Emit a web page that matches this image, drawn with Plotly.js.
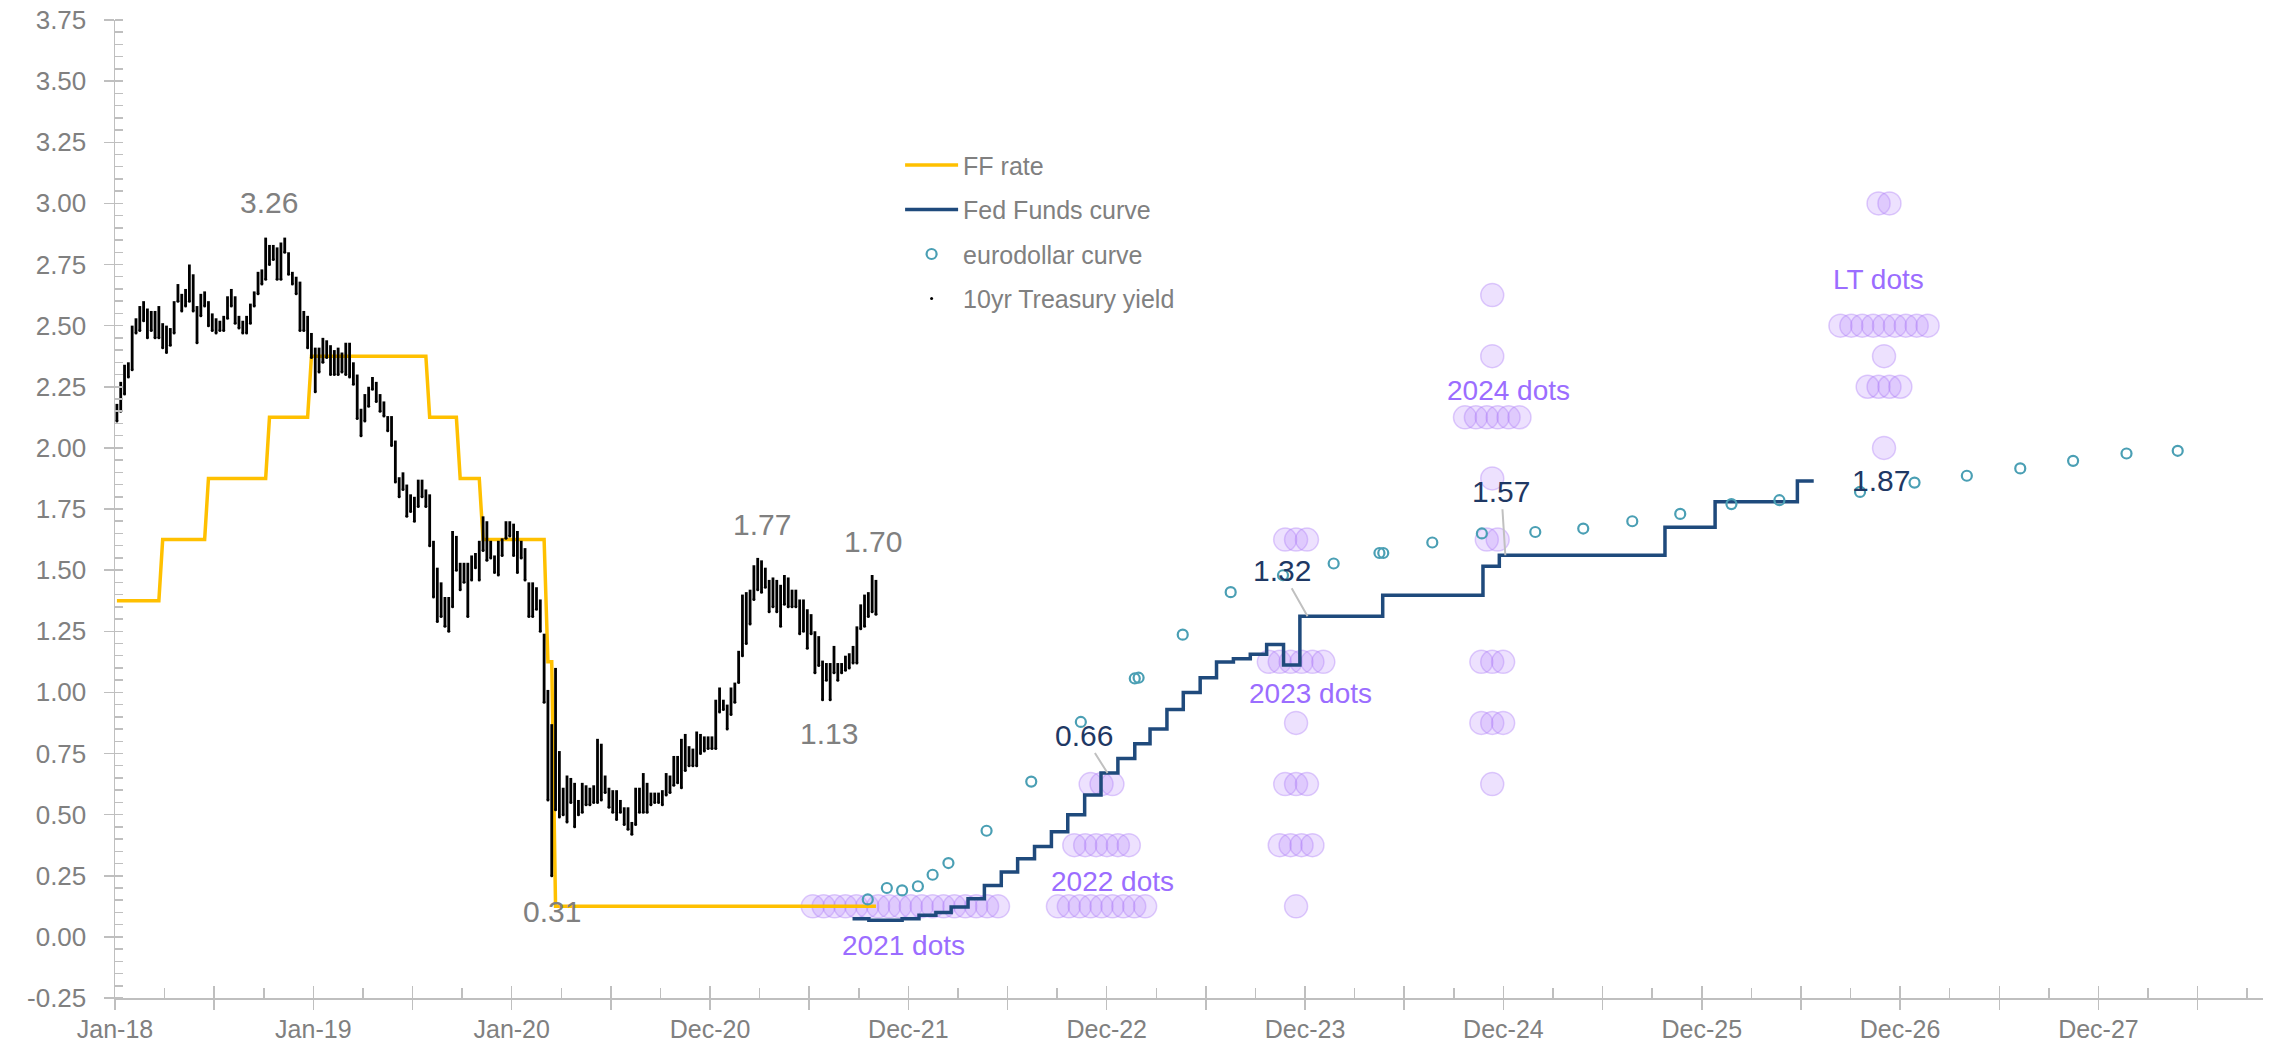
<!DOCTYPE html>
<html><head><meta charset="utf-8">
<script src="https://cdn.plot.ly/plotly-3.0.1.min.js"></script>
<style>html,body{margin:0;padding:0;background:#fff}#chart{width:2277px;height:1045px}</style>
</head><body><div id="chart"></div>
<script>
// ================= DATA =================
// 10yr Treasury yield: weekly high / low (first observation Thursday 2018-01-04)
const tsyStart = '2018-01-04';
const tsyHigh = [
2.18,2.27,2.34,2.35,2.50,2.53,2.58,2.60,2.57,2.56,
2.56,2.58,2.51,2.50,2.49,2.60,2.67,2.63,2.65,2.75,
2.71,2.58,2.63,2.64,2.60,2.55,2.53,2.52,2.54,2.62,
2.65,2.62,2.54,2.52,2.54,2.59,2.64,2.72,2.73,2.86,
2.83,2.83,2.82,2.84,2.86,2.80,2.72,2.70,2.68,2.56,
2.54,2.47,2.41,2.41,2.45,2.44,2.42,2.40,2.41,2.39,
2.43,2.43,2.35,2.30,2.16,2.22,2.25,2.29,2.27,2.22,
2.19,2.13,2.13,2.03,1.88,1.90,1.85,1.81,1.80,1.87,
1.87,1.83,1.81,1.62,1.51,1.45,1.39,1.39,1.66,1.64,
1.53,1.53,1.53,1.56,1.57,1.62,1.72,1.70,1.62,1.56,
1.62,1.63,1.70,
1.70,1.69,1.66,1.62,1.59,1.45,1.45,1.43,1.38,1.24,
1.01,0.87,1.10,0.76,0.61,0.66,0.65,0.63,0.56,0.63,
0.62,0.61,0.62,0.81,0.79,0.66,0.61,0.60,0.60,0.56,
0.53,0.53,0.47,0.61,0.61,0.67,0.63,0.59,0.59,0.59,
0.60,0.67,0.66,0.74,0.74,0.81,0.83,0.78,0.77,0.84,
0.83,0.82,0.82,0.82,0.97,1.02,0.97,0.95,1.02,1.04,
1.17,1.40,1.41,1.42,1.52,1.55,1.54,1.51,1.46,1.47,
1.46,1.44,1.48,1.47,1.42,1.42,1.38,1.38,1.34,1.32,
1.25,1.23,1.13,1.12,1.12,1.19,1.12,1.12,1.15,1.16,
1.19,1.27,1.36,1.40,1.41,1.48,1.46];
const tsyLow = [
2.11,2.15,2.22,2.29,2.32,2.47,2.48,2.52,2.45,2.48,
2.45,2.45,2.41,2.39,2.42,2.47,2.60,2.56,2.58,2.60,
2.56,2.43,2.54,2.58,2.50,2.48,2.47,2.48,2.48,2.53,
2.58,2.51,2.49,2.47,2.47,2.51,2.58,2.63,2.67,2.69,
2.75,2.77,2.69,2.69,2.80,2.71,2.67,2.63,2.48,2.48,
2.41,2.37,2.23,2.31,2.35,2.37,2.30,2.30,2.30,2.31,
2.30,2.29,2.26,2.12,2.05,2.11,2.17,2.24,2.19,2.15,
2.13,2.07,2.01,1.86,1.80,1.83,1.72,1.74,1.70,1.76,
1.80,1.76,1.60,1.39,1.29,1.31,1.27,1.25,1.35,1.50,
1.42,1.45,1.31,1.46,1.51,1.46,1.58,1.54,1.55,1.49,
1.48,1.56,1.63,
1.64,1.56,1.49,1.55,1.46,1.31,1.31,1.34,1.25,0.96,
0.56,0.25,0.52,0.49,0.50,0.47,0.55,0.45,0.50,0.51,
0.54,0.54,0.55,0.55,0.56,0.59,0.53,0.51,0.48,0.51,
0.46,0.44,0.42,0.46,0.51,0.51,0.51,0.54,0.55,0.55,
0.54,0.58,0.59,0.62,0.63,0.61,0.68,0.70,0.70,0.70,
0.75,0.76,0.77,0.77,0.77,0.92,0.93,0.85,0.91,0.96,
1.04,1.15,1.20,1.28,1.38,1.42,1.41,1.43,1.33,1.35,
1.33,1.27,1.36,1.35,1.35,1.35,1.24,1.25,1.18,1.24,
1.08,1.11,0.97,1.05,0.97,1.08,1.05,1.08,1.09,1.10,
1.12,1.12,1.26,1.27,1.31,1.33,1.32];

// Effective fed funds rate (weekly observations at the change points)
const ffDates = ['2018-01-04','2018-03-22','2018-03-29','2018-06-14','2018-06-21','2018-10-04','2018-10-11',
 '2018-12-20','2018-12-27','2019-07-25','2019-08-01','2019-09-19','2019-09-26','2019-10-31','2019-11-07',
 '2020-02-27','2020-03-05','2020-03-12','2020-03-19','2021-10-28'];
const ffRate = [1.375,1.375,1.625,1.625,1.875,1.875,2.125,2.125,2.375,2.375,2.125,2.125,1.875,1.875,1.625,
 1.625,1.125,1.125,0.125,0.125];

// Fed funds futures curve (monthly)
const ffcDates = [
 '2021-09-15','2021-10-15','2021-11-15','2021-12-15',
 '2022-01-15','2022-02-15','2022-03-15','2022-04-15','2022-05-15','2022-06-15','2022-07-15','2022-08-15','2022-09-15','2022-10-15','2022-11-15','2022-12-15',
 '2023-01-15','2023-02-15','2023-03-15','2023-04-15','2023-05-15','2023-06-15','2023-07-15','2023-08-15','2023-09-15','2023-10-15','2023-11-15','2023-12-15',
 '2024-01-15','2024-02-15','2024-03-15','2024-04-15','2024-05-15','2024-06-15','2024-07-15','2024-08-15','2024-09-15','2024-10-15','2024-11-15','2024-12-15',
 '2025-01-15','2025-02-15','2025-03-15','2025-04-15','2025-05-15','2025-06-15','2025-07-15','2025-08-15','2025-09-15','2025-10-15','2025-11-15','2025-12-15',
 '2026-01-15','2026-02-15','2026-03-15','2026-04-15','2026-05-15','2026-06-15','2026-07-15'];
const ffcRate = [
 0.074,0.068,0.068,0.074,
 0.088,0.100,0.122,0.156,0.210,0.265,0.320,0.370,0.430,0.500,0.580,0.670,
 0.730,0.790,0.850,0.930,1.000,1.060,1.124,1.138,1.156,1.196,1.112,1.311,
 1.311,1.311,1.311,1.311,1.397,1.397,1.397,1.397,1.397,1.397,1.516,1.561,
 1.561,1.561,1.561,1.561,1.561,1.561,1.561,1.561,1.561,1.675,1.675,1.675,
 1.780,1.780,1.780,1.780,1.780,1.865,1.865];

// Eurodollar futures curve
const edDates = ['2021-10-13','2021-11-17','2021-12-15','2022-01-13','2022-02-09','2022-03-10','2022-05-19',
 '2022-08-09','2022-11-08','2023-02-15','2023-02-22','2023-05-14','2023-08-10','2023-11-14','2024-02-15',
 '2024-05-09','2024-05-16','2024-08-14','2024-11-13','2025-02-19','2025-05-18','2025-08-16','2025-11-12',
 '2026-02-14','2026-05-13','2026-10-08','2027-01-16','2027-04-22','2027-07-29','2027-11-03','2028-02-09','2028-05-13'];
const edRate = [0.153,0.200,0.190,0.207,0.254,0.302,0.434,0.635,0.879,1.057,1.060,1.236,1.410,1.479,1.527,
 1.570,1.570,1.613,1.650,1.656,1.670,1.700,1.730,1.770,1.786,1.820,1.858,1.886,1.916,1.947,1.977,1.988];

// FOMC dot plot (rate level and number of participants)
const dotLabels = ['2021 dots','2022 dots','2023 dots','2024 dots','LT dots'];
const dotDates = ['2021-12-21','2022-12-16','2023-12-08','2024-12-02','2026-11-21'];
const dotRates = [
 [0.125],
 [0.125,0.375,0.625],
 [0.125,0.375,0.625,0.875,1.125,1.625],
 [0.625,0.875,1.125,1.625,1.875,2.125,2.375,2.625],
 [2.000,2.250,2.375,2.500,3.000]];
const dotCounts = [
 [18],
 [9,6,3],
 [1,4,3,1,6,3],
 [1,3,3,2,1,6,1,1],
 [1,4,1,9,2]];
const dotLabelX = ['2021-12-17','2023-01-05','2024-01-03','2025-01-01','2026-11-10'];
const dotLabelY = [-0.035,0.227,0.996,2.236,2.69];

// 10yr yield call-outs
const peakLabels = ['3.26','0.31','1.77','1.13','1.70'];
const peakLabelX = ['2018-10-10','2020-03-13','2021-04-02','2021-08-03','2021-10-22'];
const peakLabelY = [3.005,0.105,1.688,0.832,1.618];

// Fed funds curve call-outs
const curveLabels = ['0.66','1.32','1.57','1.87'];
const curveLabelDates = ['2022-12-27','2023-12-29','2024-12-26','2026-11-15'];

// Axis ticks
const xTickLabels = ['Jan-18','Jan-19','Jan-20','Dec-20','Dec-21','Dec-22','Dec-23','Dec-24','Dec-25','Dec-26','Dec-27'];
const yTickValues = [-0.25,0,0.25,0.5,0.75,1,1.25,1.5,1.75,2,2.25,2.5,2.75,3,3.25,3.5,3.75];

// ================= BUILD =================
const DAY = 864e5;
const X0 = Date.UTC(2017, 11, 31, 12);           // axis origin
const toStr = ms => new Date(ms).toISOString().replace('T', ' ').replace('Z', '');
const parse = s => Date.parse(s + 'T00:00:00Z');
const AX_GREY = '#bfbfbf', TXT_GREY = '#808080', NAVY = '#1f3864', PURPLE = '#9b6dff';
const FONT = 'Liberation Sans, Arial, sans-serif';

const tsyDates = tsyHigh.map((_, i) => toStr(parse(tsyStart) + 7 * i * DAY));

// dot-plot swarm positions
const DOT_STEP = 20 * DAY;
const dotX = [], dotY = [];
dotDates.forEach((d, c) => {
  const center = parse(d);
  dotRates[c].forEach((r, k) => {
    const n = dotCounts[c][k];
    for (let i = 0; i < n; i++) {
      dotX.push(toStr(center + (i - (n - 1) / 2) * DOT_STEP));
      dotY.push(r);
    }
  });
});

const stepValueAt = (dates, vals, d) => {
  const t = parse(d); let v = vals[0];
  dates.forEach((dd, i) => { if (parse(dd) <= t) v = vals[i]; });
  return v;
};

const traces = [
  { type: 'scatter', mode: 'markers', x: dotX, y: dotY, showlegend: false, hoverinfo: 'skip',
    marker: { size: 23, color: 'rgba(185,140,250,0.26)', line: { color: 'rgba(165,115,245,0.35)', width: 1.5 } } },
  { type: 'scatter', mode: 'lines', name: 'FF rate', x: ffDates, y: ffRate, legendgroup: 'a',
    line: { color: '#ffc000', width: 3.5 } },
  { type: 'scatter', mode: 'lines', name: 'Fed Funds curve', x: ffcDates, y: ffcRate, legendgroup: 'b',
    line: { color: '#1f4a7c', width: 3.5, shape: 'hv' } },
  { type: 'scatter', mode: 'markers', name: 'eurodollar curve', x: edDates, y: edRate, legendgroup: 'c',
    xaxis: 'x2', yaxis: 'y2',
    marker: { symbol: 'circle-open', size: 10, color: '#4a9fb4', line: { width: 2.2, color: '#4a9fb4' } } },
  { type: 'scatter', mode: 'markers', name: '10yr Treasury yield', x: tsyDates, y: tsyLow, legendgroup: 'd',
    marker: { size: 3, color: '#000' },
    error_y: { type: 'data', symmetric: false, array: tsyHigh.map((h, i) => h - tsyLow[i]),
               arrayminus: tsyLow.map(() => 0), width: 0, thickness: 2.8, color: '#000' } }
];

const majorVals = [], majorText = [];
for (let k = 0; k <= 21; k++) {
  majorVals.push(toStr(X0 + k * 182 * DAY));
  majorText.push(k % 2 === 0 ? xTickLabels[k / 2] : '');
}
const xRange = [toStr(X0), toStr(X0 + 3942 * DAY)];
const yRange = [-0.25, 3.75];

const annotations = [];
peakLabels.forEach((t, i) => annotations.push({ text: t, x: peakLabelX[i], y: peakLabelY[i], xref: 'x', yref: 'y',
  showarrow: false, font: { family: FONT, size: 30, color: TXT_GREY } }));
dotLabels.forEach((t, i) => annotations.push({ text: t, x: dotLabelX[i], y: dotLabelY[i], xref: 'x', yref: 'y',
  showarrow: false, font: { family: FONT, size: 28, color: PURPLE } }));
const leaderOffsets = [[-24, -38], [-26, -46], [-4, -64], null];
curveLabels.forEach((t, i) => {
  const off = leaderOffsets[i];
  const y = off ? stepValueAt(ffcDates, ffcRate, curveLabelDates[i]) : 1.865;
  annotations.push(Object.assign({ text: t, x: curveLabelDates[i], y: y, xref: 'x', yref: 'y',
    font: { family: FONT, size: 30, color: NAVY } },
    off ? { showarrow: true, ax: off[0], ay: off[1], arrowhead: 0, arrowwidth: 2, arrowcolor: '#c0c0c0', standoff: 0, startstandoff: 0 }
        : { showarrow: false }));
});

const layout = {
  width: 2277, height: 1045,
  margin: { l: 115, r: 14, t: 20, b: 47 },
  paper_bgcolor: '#fff', plot_bgcolor: '#fff',
  font: { family: FONT, color: TXT_GREY },
  hovermode: false,
  showlegend: true,
  legend: { x: 0.3655, y: 0.875, xanchor: 'left', yanchor: 'top', bgcolor: 'rgba(0,0,0,0)', itemwidth: 53,
            font: { family: FONT, size: 25, color: TXT_GREY }, traceorder: 'grouped', tracegroupgap: 9 },
  xaxis: { type: 'date', range: xRange, tickmode: 'array', tickvals: majorVals, ticktext: majorText,
           ticks: 'inside', ticklen: 12, tickwidth: 1.5, tickcolor: AX_GREY, ticklabelstandoff: 8,
           showline: true, linecolor: AX_GREY, linewidth: 1.5, showgrid: false, zeroline: false,
           tickfont: { family: FONT, size: 25, color: TXT_GREY },
           minor: { tick0: toStr(X0), dtick: 91 * DAY, ticks: 'inside', ticklen: 10, tickwidth: 1.5, tickcolor: AX_GREY, showgrid: false } },
  xaxis2: { type: 'date', overlaying: 'x', anchor: 'y2', side: 'bottom', range: xRange, tickmode: 'array', tickvals: majorVals,
            showticklabels: false, ticks: 'outside', ticklen: 11, tickwidth: 1.5, tickcolor: AX_GREY,
            showline: false, showgrid: false, zeroline: false },
  yaxis: { range: yRange, tickmode: 'array', tickvals: yTickValues, ticktext: yTickValues.map(v => v.toFixed(2)),
           ticks: 'outside', ticklen: 10, tickwidth: 1.5, tickcolor: AX_GREY, ticklabelstandoff: 12,
           showline: true, linecolor: AX_GREY, linewidth: 1.5, showgrid: false, zeroline: false,
           tickfont: { family: FONT, size: 26, color: TXT_GREY },
           minor: { tick0: -0.25, dtick: 0.05, ticks: 'inside', ticklen: 8, tickwidth: 1.5, tickcolor: AX_GREY, showgrid: false } },
  yaxis2: { overlaying: 'y', anchor: 'x2', side: 'left', range: yRange, tickmode: 'array', tickvals: yTickValues,
            showticklabels: false, ticks: 'inside', ticklen: 8, tickwidth: 1.5, tickcolor: AX_GREY,
            showline: false, showgrid: false, zeroline: false },
  annotations: annotations
};

Plotly.newPlot('chart', traces, layout, { displayModeBar: false, staticPlot: true });
</script>
</body></html>
